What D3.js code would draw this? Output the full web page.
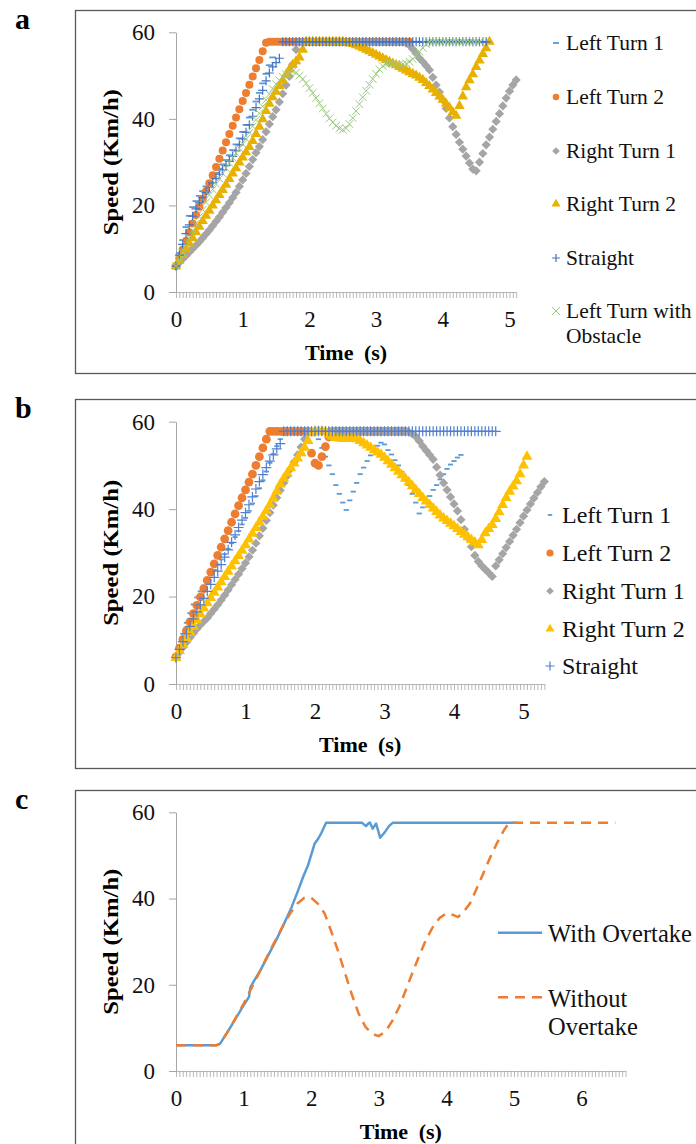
<!DOCTYPE html>
<html>
<head>
<meta charset="utf-8">
<script src="https://cdn.jsdelivr.net/npm/d3@7"></script>
<style>
  body { margin: 0; background: #fff; }
  svg { display: block; font-family: "Liberation Serif", "Times New Roman", serif; }
  svg text { font-family: "Liberation Serif", "Times New Roman", serif; }
</style>
</head>
<body>
<svg id="fig" width="696" height="1144"></svg>
<script>
// sample step of the logged speeds (s)
const dt = 0.05;

// ---- panel a : speed every 0.05 s, starting at t = 0 ----
const aLeftTurn1 = [
  6, 9, 12, 15, 17.6, 19.6, 21, 22.2, 23.3, 24.4,
  25.5, 26.5, 27.5, 28.5, 29.5, 30.5, 31.6, 32.8, 34.1, 35.5,
  37, 38.6, 40.3, 42.1, 44, 46, 48.2, 50.4, 52.4, 54.2,
  57.8, 57.8, 57.8, 57.8, 57.8, 57.8, 57.8, 57.8, 57.8, 57.8,
  57.8, 57.8, 57.8, 57.8, 57.8, 57.8, 57.8, 57.8, 57.8, 57.8,
  57.8, 57.8, 57.8, 57.8, 57.8, 57.8, 57.8, 57.8, 57.8, 57.8,
  57.8, 57.8, 57.8, 57.8, 57.8, 57.8, 57.8, 57.8, 57.8, 57.8,
  57.8, 57.8, 57.8, 57.8, 57.8, 57.8, 57.8, 57.8, 57.8, 57.8,
  57.8, 57.8, 57.8, 57.8, 57.8, 57.8, 57.8, 57.8, 57.8, 57.8,
  57.8, 57.8, 57.8, 57.8
];
const aLeftTurn2 = [
  6, 7.8, 9.8, 11.8, 13.8, 15.8, 17.8, 19.7, 21.5, 23.3,
  25.1, 27, 28.9, 30.8, 32.7, 34.6, 36.5, 38.4, 40.3, 42.2,
  44.1, 46, 47.9, 49.8, 51.7, 53.6, 55.6, 57.6, 57.8, 57.8,
  57.8, 57.8, 57.8, 57.8, 57.8, 57.8, 57.8, 57.8, 57.8, 57.8,
  57.8, 57.8, 57.8, 57.8, 57.8, 57.8, 57.8, 57.8, 57.8, 57.8,
  57.8, 57.8, 57.8, 57.8, 57.8, 57.8, 57.8, 57.8, 57.8, 57.8,
  57.8, 57.8, 57.8, 57.8, 57.8, 57.8, 57.8, 57.8, 57.8, 57.8,
  57.8
];
const aRightTurn1 = [
  6, 6.8, 7.6, 8.4, 9.2, 10, 10.8, 11.6, 12.5, 13.4,
  14.3, 15.3, 16.3, 17.3, 18.4, 19.5, 20.6, 21.8, 23, 24.4,
  25.9, 27.4, 29, 30.6, 32.2, 33.6, 35.2, 37, 38.8, 40.5,
  42.1, 43.9, 45.8, 47.8, 49.8, 52.6, 56, 57.8, 57.8, 57.8,
  57.8, 57.8, 57.8, 57.8, 57.8, 57.8, 57.8, 57.8, 57.8, 57.8,
  57.8, 57.8, 57.8, 57.8, 57.8, 57.8, 57.8, 57.8, 57.8, 57.8,
  57.8, 57.8, 57.8, 57.8, 57.8, 57.8, 57.8, 57.8, 57.8, 57.5,
  57, 56.1, 55.1, 54, 53.2, 52.3, 51.3, 49.6, 47.8, 46.2,
  44.4, 42.4, 40.2, 38.2, 36.4, 34.6, 33, 31.4, 29.8, 28.4,
  28, 30, 32, 34, 35.8, 37.6, 39.4, 41.2, 43, 44.8,
  46.4, 47.8, 49
];
const aRightTurn2 = [
  6, 7.3, 8.6, 9.9, 11.2, 12.5, 13.8, 15.1, 16.4, 17.6,
  18.8, 20, 21.2, 22.4, 23.6, 24.8, 26.1, 27.4, 28.6, 29.9,
  31.1, 32.3, 33.5, 34.9, 36.5, 38.2, 39.9, 41.8, 43.5, 45,
  46.3, 47.6, 48.9, 50.2, 51.4, 52.5, 53.3, 54.2, 56, 57.8,
  57.8, 57.8, 57.8, 57.8, 57.8, 57.8, 57.8, 57.8, 57.8, 57.8,
  57.8, 57.7, 57.5, 57.3, 57, 56.7, 56.4, 56, 55.6, 55.2,
  54.8, 54.4, 54, 53.6, 53.2, 52.8, 52.4, 52, 51.6, 51.2,
  50.8, 50.4, 50, 49.5, 49, 48.3, 47.6, 46.8, 46, 45.2,
  44.4, 43.5, 42.6, 41.6, 40.7, 43, 45.2, 47.3, 48.9, 50.3,
  52, 53.5, 55, 56.3, 57.8
];
const aStraight = [
  6, 8.5, 11, 13.5, 15.5, 17.5, 19.2, 20.6, 21.8, 23,
  24.2, 25.2, 26.2, 27.2, 28.2, 29.2, 30.2, 31.3, 32.6, 34,
  35.4, 36.9, 38.6, 40.6, 42.6, 44.6, 46.6, 48.8, 50.6, 52,
  53, 54, 57.8, 57.8, 57.8, 57.8, 57.8, 57.8, 57.8, 57.8,
  57.8, 57.8, 57.8, 57.8, 57.8, 57.8, 57.8, 57.8, 57.8, 57.8,
  57.8, 57.8, 57.8, 57.8, 57.8, 57.8, 57.8, 57.8, 57.8, 57.8,
  57.8, 57.8, 57.8, 57.8, 57.8, 57.8, 57.8, 57.8, 57.8, 57.8,
  57.8, 57.8, 57.8, 57.8, 57.8, 57.8, 57.8, 57.8, 57.8, 57.8,
  57.8, 57.8, 57.8, 57.8, 57.8, 57.8, 57.8, 57.8, 57.8, 57.8,
  57.8, 57.8, 57.8, 57.8
];
const aObstacle = [
  6, 7.5, 9.1, 10.8, 12.5, 14.2, 15.8, 17.4, 19, 20.7,
  22.4, 23.7, 25, 26.2, 27.4, 28.6, 29.8, 31, 32.1, 33.2,
  34.2, 35.4, 36.8, 38.3, 39.8, 41.3, 42.9, 44.4, 45.7, 46.9,
  48, 48.9, 49.7, 50.3, 50.8, 51, 50.7, 50, 49.2, 48.2,
  47.1, 46, 44.8, 43.6, 42.4, 41.2, 40.1, 39.2, 38.4, 37.8,
  37.5, 37.8, 38.8, 40.2, 41.8, 43.4, 45, 46.5, 47.9, 49.2,
  50.4, 51.4, 52.2, 52.6, 52.8, 52.8, 52.7, 52.6, 52.6, 52.8,
  53.2, 53.8, 54.6, 55.5, 56.4, 57.2, 57.8, 57.8, 57.8, 57.8,
  57.8, 57.8, 57.8, 57.8, 57.8, 57.8, 57.8, 57.8, 57.8, 57.8,
  57.8, 57.8
];

// ---- panel b ----
const bLeftTurn1 = [
  6, 8.8, 11.5, 14, 16.2, 18.2, 19.8, 21.2, 22.5, 23.7,
  24.9, 26.1, 27.3, 28.5, 29.7, 30.9, 32.2, 33.6, 35, 36.5,
  38, 39.6, 41.3, 43, 44.8, 46.6, 48.6, 50.6, 52.6, 54.4,
  56, 57, 57.8, 57.8, 57.8, 57.8, 57.8, 57.8, 57.8, 57.8,
  57.8, 56, 54, 52, 50, 48, 45.5, 43.5, 41.5, 39.8,
  42, 44, 46, 48, 49.5, 51, 52.3, 53.5, 54.5, 55.2,
  54.8, 53.5, 52.5, 51.2, 50, 48.5, 47, 45.5, 43.5, 41.5,
  39, 40.4, 41.8, 43, 44.4, 45.5, 46.8, 48, 49.2, 50.2,
  51, 51.8, 52.4
];
const bLeftTurn2 = [
  6.2, 8.2, 10.2, 12.2, 14.2, 16.1, 18, 19.9, 21.8, 23.7,
  25.6, 27.5, 29.4, 31.3, 33.2, 35.1, 37, 38.9, 40.8, 42.6,
  44.4, 46.2, 48, 50, 52, 54, 56, 57.8, 57.8, 57.8,
  57.8, 57.8, 57.8, 57.8, 57.8, 57.8, 57.8, 57.8, 57.8, 52.8,
  50.5, 50, 52, 54.3, 56.5, 57.8, 57.8, 57.8, 57.8, 57.8,
  57.8, 57.8, 57.8, 57.8, 57.8, 57.8, 57.8, 57.8, 57.8, 57.8,
  57.8, 57.8, 57.8, 57.8, 57.8, 57.8, 57.8
];
const bRightTurn1 = [
  6, 7.2, 8.4, 9.5, 10.6, 11.6, 12.6, 13.5, 14.3, 15.1,
  16.1, 17.1, 18.1, 19.2, 20.3, 21.5, 22.7, 23.9, 25.1, 26.4,
  27.7, 29.1, 30.6, 32.2, 33.9, 35.6, 37.4, 39.2, 40.9, 42.6,
  44.3, 46, 47.6, 49.2, 50.8, 52.4, 54.2, 56, 57.8, 57.8,
  57.8, 57.8, 57.8, 57.8, 57.8, 57.8, 57.8, 57.8, 57.8, 57.8,
  57.8, 57.8, 57.8, 57.8, 57.8, 57.8, 57.8, 57.8, 57.8, 57.8,
  57.8, 57.8, 57.8, 57.8, 57.8, 57.8, 57.8, 57.6, 57.2, 56.6,
  55.6, 54.4, 53.4, 52.4, 51.4, 49.6, 47.8, 46, 44.4, 42.8,
  41.2, 39.6, 37.6, 35.4, 33.4, 31.4, 29.4, 28, 27, 26.2,
  25.4, 24.6, 27, 28.4, 29.8, 31.2, 32.6, 34, 35.4, 36.9,
  38.4, 39.8, 41.2, 42.5, 43.8, 45.1, 46.3
];
const bRightTurn2 = [
  6, 7.6, 9, 10.4, 11.8, 13.2, 14.6, 16, 17.3, 18.5,
  19.7, 20.9, 22.1, 23.3, 24.5, 25.7, 26.9, 28.1, 29.3, 30.5,
  31.8, 33.1, 34.4, 35.7, 37, 38.3, 39.6, 41, 42.5, 44.1,
  45.7, 47, 48.2, 49.4, 50.5, 51.6, 52.8, 54.1, 55.6, 57.4,
  57.8, 57.8, 57.8, 57.6, 57, 56.6, 56.3, 56.2, 56.1, 56.1,
  56.2, 56.2, 56, 55.6, 55.1, 54.6, 54.1, 53.5, 53, 52.5,
  51.8, 51, 50.2, 49.4, 48.6, 47.8, 47, 46.2, 45.3, 44.4,
  43.5, 42.6, 41.8, 41, 40.2, 39.4, 38.6, 37.9, 37.3, 36.7,
  36.1, 35.5, 34.8, 34.2, 33.6, 33, 32.4, 31.8, 33, 34.5,
  35.5, 36.4, 37.8, 39.3, 41, 42.6, 44, 45.2, 46.4, 48,
  50, 52
];
const bStraight = [
  6, 7.9, 9.7, 11.5, 13.2, 14.9, 16.5, 18.1, 19.6, 21.2,
  22.8, 24.4, 25.8, 27.3, 29, 30.7, 32.4, 34.1, 35.8, 37.5,
  39.2, 41, 42.8, 44.6, 46.3, 47.9, 49.5, 51, 52.4, 53.8,
  55, 57.8, 57.8, 57.8, 57.8, 57.8, 57.8, 57.8, 57.8, 57.8,
  57.8, 57.8, 57.8, 57.8, 57.8, 57.8, 57.8, 57.8, 57.8, 57.8,
  57.8, 57.8, 57.8, 57.8, 57.8, 57.8, 57.8, 57.8, 57.8, 57.8,
  57.8, 57.8, 57.8, 57.8, 57.8, 57.8, 57.8, 57.8, 57.8, 57.8,
  57.8, 57.8, 57.8, 57.8, 57.8, 57.8, 57.8, 57.8, 57.8, 57.8,
  57.8, 57.8, 57.8, 57.8, 57.8, 57.8, 57.8, 57.8, 57.8, 57.8,
  57.8, 57.8, 57.8
];

// ---- panel c : (time, speed) pairs ----
const cWithTime = [0, 0.6, 0.65, 0.7, 0.8, 0.9, 1.0, 1.08, 1.1, 1.15, 1.25, 1.35, 1.48, 1.6, 1.71, 1.8, 1.88, 1.95,
  2.05, 2.1, 2.15, 2.22, 2.75, 2.81, 2.85, 2.87, 2.91, 2.96, 3.02, 3.09, 3.15, 3.21, 5.05];
const cWithSpeed = [6, 6, 6.3, 7.5, 10, 12.6, 15.2, 17.2, 19.4, 20.8, 23.4, 26.4, 30.3, 34.2, 38, 41.6, 45, 47.6,
  52.7, 53.8, 55.2, 57.6, 57.6, 56.8, 57.5, 57.6, 56.2, 57.4, 54.1, 55.4, 56.8, 57.6, 57.6];
const cWithoutTime = [0, 0.6, 0.65, 0.7, 0.8, 0.9, 1.0, 1.1, 1.2, 1.3, 1.4, 1.5, 1.6, 1.7, 1.8, 1.9, 1.95, 2.0, 2.1,
  2.2, 2.3, 2.4, 2.5, 2.6, 2.7, 2.8, 2.9, 3.0, 3.1, 3.2, 3.3, 3.4, 3.5, 3.6, 3.7, 3.8, 3.9, 4.0, 4.1, 4.17,
  4.25, 4.35, 4.45, 4.55, 4.65, 4.75, 4.85, 4.93, 6.5];
const cWithoutSpeed = [6, 6, 6.3, 7.5, 10, 12.8, 15.6, 18.7, 21.8, 25, 28.2, 31.2, 34.2, 36.8, 38.9, 40.2, 40.4, 40.2, 38.8,
  36.5, 32.2, 27.7, 22.7, 17.8, 13.4, 10.3, 8.6, 8.1, 9.2, 11.6, 14.8, 18.8, 22.9, 26.8, 30.5, 33.4, 35.5, 36.6, 36.2, 35.7,
  36.8, 38.9, 42.4, 46, 49.6, 52.9, 55.8, 57.6, 57.6];

const yTicks = [0, 20, 40, 60];

const svg = d3.select('#fig');
const axisGrey = '#a6a6a6';
const serif = '"Liberation Serif", "Times New Roman", serif';

const drawMarker = (g, type, s, color) => {
    if (type === 'circle') {
        g.append('circle').attr('r', s).attr('fill', color);
    } else if (type === 'diamond') {
        const h = s * 0.707;
        g.append('rect').attr('x', -h).attr('y', -h).attr('width', 2 * h).attr('height', 2 * h)
            .attr('transform', 'rotate(45)').attr('fill', color);
    } else if (type === 'triangle') {
        g.append('path').attr('d', d3.symbol(d3.symbolTriangle, s * s * 2.7)()).attr('fill', color);
    } else if (type === 'plus') {
        g.append('path').attr('d', `M${-s},0H${s}M0,${-s}V${s}`)
            .attr('stroke', color).attr('stroke-width', 1.2).attr('fill', 'none');
    } else if (type === 'cross') {
        g.append('path').attr('d', `M${-s},${-s}L${s},${s}M${-s},${s}L${s},${-s}`)
            .attr('stroke', color).attr('stroke-width', 1).attr('fill', 'none');
    } else if (type === 'dash') {
        g.append('rect').attr('x', -s).attr('y', -0.9).attr('width', 2 * s).attr('height', 1.8).attr('fill', color);
    }
};

// frame, axes and titles shared by the three panels
const drawPanel = p => {
    svg.append('rect')
        .attr('x', 75.5).attr('y', p.frameTop + 0.5)
        .attr('width', 700).attr('height', p.frameBottom - p.frameTop)
        .attr('fill', 'none').attr('stroke', '#595959').attr('stroke-width', 1.3);

    svg.append('text')
        .attr('x', 15).attr('y', p.frameTop + 19)
        .attr('font-size', 30).attr('font-weight', 'bold')
        .text(p.letter);

    const x = d3.scaleLinear().domain([0, p.xMax]).range([176, 176 + p.xMax * p.pxPerSec]);
    const y = d3.scaleLinear().domain([0, 60]).range([p.y0, p.y60]);

    const minor = d3.range(0, Math.round(p.xMax / dt) + 1).map(i => i * dt);
    const gx = svg.append('g').attr('transform', `translate(0,${p.y0})`)
        .call(d3.axisBottom(x).tickValues(minor).tickSize(6).tickSizeOuter(0).tickFormat(''));
    gx.selectAll('path,line').attr('stroke', axisGrey).attr('stroke-width', 0.8);

    const gxl = svg.append('g').attr('transform', `translate(0,${p.y0})`)
        .call(d3.axisBottom(x).tickValues(p.xLabels).tickSize(0).tickPadding(19).tickFormat(d3.format('d')));
    gxl.select('.domain').remove();
    gxl.attr('font-family', serif).attr('font-size', 23);
    gxl.selectAll('text').attr('fill', '#111');

    const gy = svg.append('g').attr('transform', 'translate(176,0)')
        .call(d3.axisLeft(y).tickValues(yTicks).tickSize(7).tickSizeOuter(0).tickPadding(14));
    gy.attr('font-family', serif).attr('font-size', 23);
    gy.selectAll('path,line').attr('stroke', axisGrey).attr('stroke-width', 1);
    gy.selectAll('text').attr('fill', '#111');

    svg.append('text')
        .attr('transform', `translate(118,${(p.y0 + p.y60) / 2}) rotate(-90)`)
        .attr('text-anchor', 'middle').attr('font-size', 22).attr('font-weight', 'bold')
        .attr('textLength', 146).attr('lengthAdjust', 'spacingAndGlyphs')
        .text('Speed (Km/h)');

    svg.append('text')
        .attr('x', (x.range()[0] + x.range()[1]) / 2).attr('y', p.y0 + 68)
        .attr('text-anchor', 'middle').attr('font-size', 22).attr('font-weight', 'bold')
        .attr('word-spacing', 5)
        .text('Time (s)');

    return { x, y };
};

const drawScatter = (sc, series) => {
    series.forEach(s => {
        svg.append('g').selectAll('g')
            .data(s.values.map((v, i) => [i * dt, v]))
            .enter().append('g')
            .attr('transform', d => `translate(${sc.x(d[0])},${sc.y(d[1])})`)
            .each(function () { drawMarker(d3.select(this), s.type, s.size, s.color); });
    });
};

const drawLegend = (items, lx, tx, fontSize) => {
    items.forEach(it => {
        const g = svg.append('g').attr('transform', `translate(${lx},${it.cy})`);
        drawMarker(g, it.type, it.size, it.color);
        it.lines.forEach((line, k) => {
            svg.append('text').attr('x', tx).attr('y', it.cy + fontSize * 0.34 + k * fontSize * 1.13)
                .attr('font-size', fontSize).attr('fill', '#111').text(line);
        });
    });
};

// ---------- panel a ----------
const scA = drawPanel({ letter: 'a', frameTop: 10, frameBottom: 373, y0: 292, y60: 32.3,
    xMax: 5.1, pxPerSec: 66.7, xLabels: [0, 1, 2, 3, 4, 5] });
const seriesA = [
    { name: 'Left Turn 1', values: aLeftTurn1, type: 'dash', size: 3.5, color: '#5b9bd5' },
    { name: 'Left Turn 2', values: aLeftTurn2, type: 'circle', size: 4, color: '#ed7d31' },
    { name: 'Right Turn 1', values: aRightTurn1, type: 'diamond', size: 4.6, color: '#a5a5a5' },
    { name: 'Right Turn 2', values: aRightTurn2, type: 'triangle', size: 4.2, color: '#e8b000' },
    { name: 'Straight', values: aStraight, type: 'plus', size: 4.5, color: '#4472c4' },
    { name: 'Left Turn with Obstacle', values: aObstacle, type: 'cross', size: 3.8, color: '#9cc97e' }
];
drawScatter(scA, seriesA);
drawLegend([
    { type: 'dash', size: 3, color: '#5b9bd5', cy: 43, lines: ['Left Turn 1'] },
    { type: 'circle', size: 3.3, color: '#ed7d31', cy: 97, lines: ['Left Turn 2'] },
    { type: 'diamond', size: 3.8, color: '#a5a5a5', cy: 151, lines: ['Right Turn 1'] },
    { type: 'triangle', size: 3.6, color: '#e8b000', cy: 204, lines: ['Right Turn 2'] },
    { type: 'plus', size: 4, color: '#4472c4', cy: 258, lines: ['Straight'] },
    { type: 'cross', size: 4, color: '#9cc97e', cy: 311, lines: ['Left Turn with', 'Obstacle'] }
], 556, 566, 21.5);

// ---------- panel b ----------
const scB = drawPanel({ letter: 'b', frameTop: 399, frameBottom: 768, y0: 684, y60: 421.7,
    xMax: 5.3, pxPerSec: 69.5, xLabels: [0, 1, 2, 3, 4, 5] });
const seriesB = [
    { values: bLeftTurn1, type: 'dash', size: 2.6, color: '#5b9bd5' },
    { values: bLeftTurn2, type: 'circle', size: 4.4, color: '#ed7d31' },
    { values: bRightTurn1, type: 'diamond', size: 4.6, color: '#a5a5a5' },
    { values: bRightTurn2, type: 'triangle', size: 4.4, color: '#ffc000' },
    { values: bStraight, type: 'plus', size: 5, color: '#4f7fd0' }
];
drawScatter(scB, seriesB);
drawLegend([
    { type: 'dash', size: 2.2, color: '#5b9bd5', cy: 515, lines: ['Left Turn 1'] },
    { type: 'circle', size: 3.6, color: '#ed7d31', cy: 553, lines: ['Left Turn 2'] },
    { type: 'diamond', size: 3.8, color: '#a5a5a5', cy: 591, lines: ['Right Turn 1'] },
    { type: 'triangle', size: 3.6, color: '#ffc000', cy: 629, lines: ['Right Turn 2'] },
    { type: 'plus', size: 4.5, color: '#4f7fd0', cy: 666, lines: ['Straight'] }
], 550, 562, 24);

// ---------- panel c ----------
const scC = drawPanel({ letter: 'c', frameTop: 790, frameBottom: 1200, y0: 1071, y60: 812.3,
    xMax: 6.65, pxPerSec: 67.6, xLabels: [0, 1, 2, 3, 4, 5, 6] });
const line = d3.line().x(d => scC.x(d[0])).y(d => scC.y(d[1]));
const withPts = cWithTime.map((t, i) => [t, cWithSpeed[i]]);
const withoutPts = cWithoutTime.map((t, i) => [t, cWithoutSpeed[i]]);

svg.append('path').attr('d', line(withPts))
    .attr('fill', 'none').attr('stroke', '#5b9bd5').attr('stroke-width', 2.5).attr('stroke-linejoin', 'round');
svg.append('path').attr('d', line(withoutPts))
    .attr('fill', 'none').attr('stroke', '#ed7d31').attr('stroke-width', 2.5).attr('stroke-dasharray', '10,7');

svg.append('line').attr('x1', 498).attr('x2', 542).attr('y1', 932.7).attr('y2', 932.7)
    .attr('stroke', '#5b9bd5').attr('stroke-width', 2.5);
svg.append('line').attr('x1', 498).attr('x2', 542).attr('y1', 997.3).attr('y2', 997.3)
    .attr('stroke', '#ed7d31').attr('stroke-width', 2.5).attr('stroke-dasharray', '10,7');
svg.append('text').attr('x', 548).attr('y', 941.5).attr('font-size', 24.5).attr('fill', '#111').text('With Overtake');
svg.append('text').attr('x', 548).attr('y', 1006.5).attr('font-size', 24.5).attr('fill', '#111').text('Without');
svg.append('text').attr('x', 548).attr('y', 1034.5).attr('font-size', 24.5).attr('fill', '#111').text('Overtake');
</script>
</body>
</html>
